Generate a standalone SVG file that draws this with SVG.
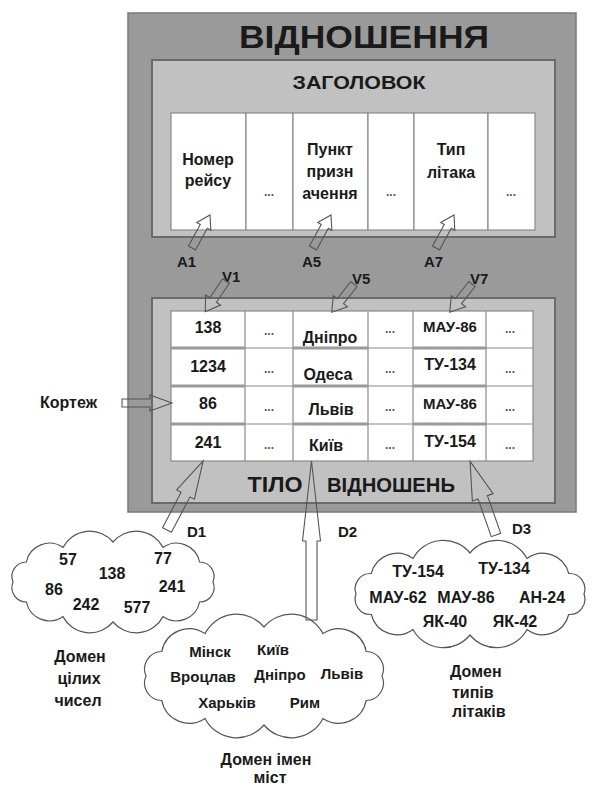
<svg xmlns="http://www.w3.org/2000/svg" width="593" height="787" viewBox="0 0 593 787">
<style>
text{font-family:"Liberation Sans",Arial,sans-serif;font-weight:bold;fill:#1a1a1a}
.t17{font-size:16px}
.c{text-anchor:middle}
.dots{font-size:12px;fill:#555;text-anchor:middle}
.cell{fill:#fff;stroke:#8a8a8a;stroke-width:1.2}
.harrow{fill:none;stroke:#555;stroke-width:1.1}
.cloud{fill:#fff;stroke:#555;stroke-width:1.2}
.lbl{font-size:15px}
</style>
<rect width="593" height="787" fill="#fff"/>
<g id="relation">
<rect x="128" y="13" width="448" height="499" fill="#9a9a9a" stroke="#7a7a7a" stroke-width="1.5"/>
<text x="364" y="48" class="c" font-size="31" textLength="250" lengthAdjust="spacingAndGlyphs">ВІДНОШЕННЯ</text>
</g>
<g id="header">
<rect x="152" y="60" width="403" height="177" fill="#c1c1c1" stroke="#6a6a6a" stroke-width="2"/>
<text x="359" y="89" class="c" font-size="18" textLength="133" lengthAdjust="spacingAndGlyphs">ЗАГОЛОВОК</text>
<rect class="cell" x="171" y="113" width="75" height="117"/>
<rect class="cell" x="246" y="113" width="47" height="117"/>
<rect class="cell" x="293" y="113" width="75" height="117"/>
<rect class="cell" x="368" y="113" width="46" height="117"/>
<rect class="cell" x="414" y="113" width="74" height="117"/>
<rect class="cell" x="488" y="113" width="47" height="117"/>
<text class="t17 c" x="208" y="165">Номер</text>
<text class="t17 c" x="208" y="186">рейсу</text>
<text class="dots" x="269" y="196">...</text>
<text class="t17 c" x="330" y="155">Пункт</text>
<text class="t17 c" x="330" y="177">призн</text>
<text class="t17 c" x="330" y="199">ачення</text>
<text class="dots" x="391" y="196">...</text>
<text class="t17 c" x="451" y="155">Тип</text>
<text class="t17 c" x="451" y="178">літака</text>
<text class="dots" x="511" y="196">...</text>
</g>
<g id="attr-labels">
<text class="lbl" x="177" y="267">A1</text>
<text class="lbl" x="302" y="267">A5</text>
<text class="lbl" x="424" y="267">A7</text>
<text class="lbl" x="222" y="282">V1</text>
<text class="lbl" x="352" y="284">V5</text>
<text class="lbl" x="470" y="284">V7</text>
</g>
<g id="body">
<rect x="152" y="298" width="403" height="205" fill="#c1c1c1" stroke="#6a6a6a" stroke-width="2"/>
<rect class="cell" x="171" y="311" width="362" height="150"/>
<g stroke="#8a8a8a" stroke-width="1.2">
<line x1="245" y1="311" x2="245" y2="461"/>
<line x1="293" y1="311" x2="293" y2="461"/>
<line x1="368" y1="311" x2="368" y2="461"/>
<line x1="413" y1="311" x2="413" y2="461"/>
<line x1="486" y1="311" x2="486" y2="461"/>
<line x1="171" y1="348" x2="533" y2="348"/>
<line x1="171" y1="386" x2="533" y2="386"/>
<line x1="171" y1="424" x2="533" y2="424"/>
</g>
<g stroke="#9a9a9a" stroke-width="3">
<line x1="171" y1="348" x2="245" y2="348"/>
<line x1="171" y1="386" x2="245" y2="386"/>
<line x1="171" y1="424" x2="245" y2="424"/>
<line x1="293" y1="348" x2="368" y2="348"/>
<line x1="293" y1="386" x2="368" y2="386"/>
<line x1="293" y1="424" x2="368" y2="424"/>
<line x1="413" y1="348" x2="486" y2="348"/>
<line x1="413" y1="386" x2="486" y2="386"/>
<line x1="413" y1="424" x2="486" y2="424"/>
</g>
<text class="t17 c" x="208" y="333">138</text>
<text class="t17 c" x="208" y="372">1234</text>
<text class="t17 c" x="208" y="409">86</text>
<text class="t17 c" x="208" y="448">241</text>
<text class="dots" x="269" y="335">...</text>
<text class="dots" x="269" y="373">...</text>
<text class="dots" x="269" y="411">...</text>
<text class="dots" x="269" y="449">...</text>
<text class="t17 c" x="330" y="343">Дніпро</text>
<text class="t17 c" x="328" y="380">Одеса</text>
<text class="t17 c" x="331" y="415">Львів</text>
<text class="t17 c" x="326" y="451">Київ</text>
<text class="dots" x="390" y="333">...</text>
<text class="dots" x="390" y="373">...</text>
<text class="dots" x="390" y="411">...</text>
<text class="dots" x="390" y="449">...</text>
<text class="c" font-size="15" x="450" y="332">МАУ-86</text>
<text class="t17 c" x="450" y="370">ТУ-134</text>
<text class="c" font-size="15" x="450" y="409">МАУ-86</text>
<text class="t17 c" x="450" y="447">ТУ-154</text>
<text class="dots" x="510" y="333">...</text>
<text class="dots" x="510" y="373">...</text>
<text class="dots" x="510" y="411">...</text>
<text class="dots" x="510" y="449">...</text>
<text x="275" y="492" class="c" font-size="22" textLength="55" lengthAdjust="spacingAndGlyphs">ТІЛО</text>
<text x="391" y="492" class="c" font-size="21" textLength="128" lengthAdjust="spacingAndGlyphs">ВІДНОШЕНЬ</text>
</g>
<g id="tuple">
<text class="t17" x="40" y="408">Кортеж</text>
</g>
<g id="domain-int">
<path class="cloud" d="M213 582 A14.5 14.5 0 0 1 199.6 602 A23.6 23.6 0 0 1 163 616.6 A30.2 30.2 0 0 1 113 622 A30.2 30.2 0 0 1 63 616.6 A23.6 23.6 0 0 1 26.4 602 A14.5 14.5 0 0 1 13 582 A14.5 14.5 0 0 1 26.4 562 A23.6 23.6 0 0 1 63 547.4 A30.2 30.2 0 0 1 113 542 A30.2 30.2 0 0 1 163 547.4 A23.6 23.6 0 0 1 199.6 562 A14.5 14.5 0 0 1 213 582 Z"/>
<text class="t17 c" x="68" y="565">57</text>
<text class="t17 c" x="112" y="579">138</text>
<text class="t17 c" x="163" y="564">77</text>
<text class="t17 c" x="54" y="595">86</text>
<text class="t17 c" x="172" y="592">241</text>
<text class="t17 c" x="86" y="610">242</text>
<text class="t17 c" x="137" y="613">577</text>
<text class="t17 c" x="80" y="662">Домен</text>
<text class="t17 c" x="79" y="684">цілих</text>
<text class="t17 c" x="78" y="706">чисел</text>
<text class="lbl" x="187" y="537">D1</text>
</g>
<g id="domain-city">
<path class="cloud" d="M382 676 A17.5 17.5 0 0 1 366.2 700.5 A28 28 0 0 1 323 718.4 A35.6 35.6 0 0 1 264 725 A35.6 35.6 0 0 1 205 718.4 A28 28 0 0 1 161.8 700.5 A17.5 17.5 0 0 1 146 676 A17.5 17.5 0 0 1 161.8 651.5 A28 28 0 0 1 205 633.6 A35.6 35.6 0 0 1 264 627 A35.6 35.6 0 0 1 323 633.6 A28 28 0 0 1 366.2 651.5 A17.5 17.5 0 0 1 382 676 Z"/>
<text class="c" font-size="15" x="210" y="657">Мінск</text>
<text class="c" font-size="15" x="273" y="655">Київ</text>
<text class="c" font-size="15" x="203" y="682">Вроцлав</text>
<text class="c" font-size="15" x="280" y="680">Дніпро</text>
<text class="c" font-size="15" x="342" y="679">Львів</text>
<text class="c" font-size="15" x="227" y="708">Харьків</text>
<text class="c" font-size="15" x="305" y="708">Рим</text>
<text class="c" font-size="16" x="266" y="765">Домен імен</text>
<text class="c" font-size="16" x="270" y="783">міст</text>
<text class="lbl" x="338" y="537">D2</text>
</g>
<g id="domain-plane">
<path class="cloud" d="M584 594 A15.4 15.4 0 0 1 568.7 614.5 A26.6 26.6 0 0 1 527 629.5 A34.4 34.4 0 0 1 470 635 A34.4 34.4 0 0 1 413 629.5 A26.6 26.6 0 0 1 371.3 614.5 A15.4 15.4 0 0 1 356 594 A15.4 15.4 0 0 1 371.3 573.5 A26.6 26.6 0 0 1 413 558.5 A34.4 34.4 0 0 1 470 553 A34.4 34.4 0 0 1 527 558.5 A26.6 26.6 0 0 1 568.7 573.5 A15.4 15.4 0 0 1 584 594 Z"/>
<text class="t17 c" x="418" y="577">ТУ-154</text>
<text class="t17 c" x="504" y="574">ТУ-134</text>
<text class="t17 c" x="398" y="603">МАУ-62</text>
<text class="t17 c" x="466" y="603">МАУ-86</text>
<text class="t17 c" x="542" y="603">АН-24</text>
<text class="t17 c" x="445" y="627">ЯК-40</text>
<text class="t17 c" x="515" y="627">ЯК-42</text>
<text class="t17" x="450" y="677">Домен</text>
<text class="t17" x="452" y="698" font-size="15">типів</text>
<text class="t17" x="452" y="717" font-size="15">літаків</text>
<text class="lbl" x="512" y="534">D3</text>
</g>
<g id="connectors">
<polygon class="harrow" points="0,-4 24.6,-4 24.6,-8 37.6,0 24.6,8 24.6,4 0,4" transform="translate(192,248) rotate(-61.4)"/>
<polygon class="harrow" points="0,-4 24.6,-4 24.6,-8 37.6,0 24.6,8 24.6,4 0,4" transform="translate(313,248) rotate(-61.4)"/>
<polygon class="harrow" points="0,-4 24.6,-4 24.6,-8 37.6,0 24.6,8 24.6,4 0,4" transform="translate(436,248) rotate(-61.4)"/>
<polygon class="harrow" points="0,-4 23,-4 23,-9 37,0 23,9 23,4 0,4" transform="translate(226,281) rotate(124.1)"/>
<polygon class="harrow" points="0,-4 22,-4 22,-9 36,0 22,9 22,4 0,4" transform="translate(354,284) rotate(128.2)"/>
<polygon class="harrow" points="0,-4 22,-4 22,-9 36,0 22,9 22,4 0,4" transform="translate(472,284) rotate(128.2)"/>
<polygon class="harrow" points="0,-4 28,-4 28,-8 50,0 28,8 28,4 0,4" transform="translate(122,403)"/>
<polygon class="harrow" points="0,-5 40,-5 40,-10 78,0 40,10 40,5 0,5" transform="translate(167,530) rotate(-62.4)"/>
<polygon class="harrow" points="0,-5.5 79,-5.5 79,-9 159,0 79,9 79,5.5 0,5.5" transform="translate(311.5,620) rotate(-90)"/>
<polygon class="harrow" points="0,-5 40,-5 40,-11 78,0 40,11 40,5 0,5" transform="translate(496,535) rotate(-109.4)"/>
</g>
</svg>
